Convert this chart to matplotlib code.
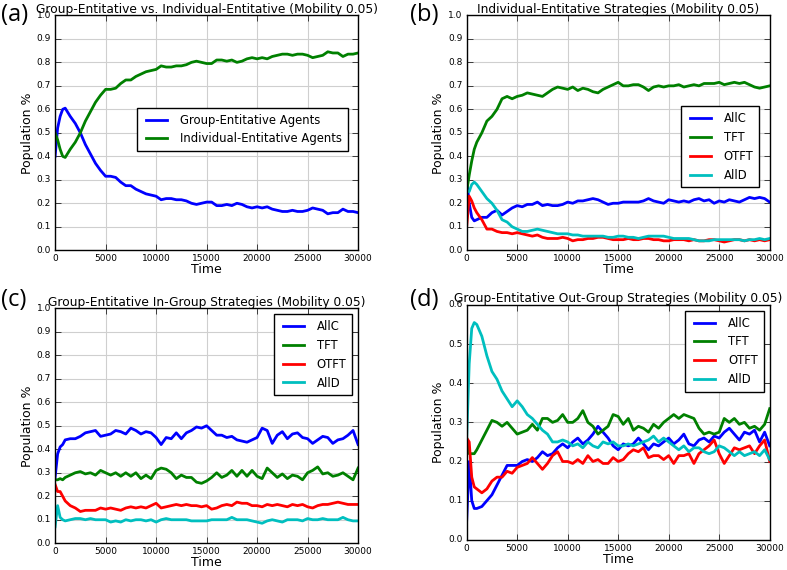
import numpy as np
import matplotlib
matplotlib.use("Agg")
from matplotlib import pyplot as plt

#time axis (samples every 250 at the start, then every 500)
time = [0, 250, 500, 750] + list(range(1000, 30001, 500))

#(a) Group-Entitative vs. Individual-Entitative
a_group = [0.40, 0.52, 0.57, 0.60, 0.605, 0.57, 0.54, 0.50, 0.45, 0.41, 0.37, 0.34, 0.315, 0.315, 0.31,
           0.29, 0.275, 0.275, 0.26, 0.25, 0.24, 0.235, 0.23, 0.215, 0.22, 0.22, 0.215, 0.215, 0.21, 0.20,
           0.195, 0.20, 0.205, 0.205, 0.19, 0.19, 0.195, 0.19, 0.20, 0.195, 0.185, 0.18, 0.185, 0.18, 0.185,
           0.175, 0.17, 0.165, 0.165, 0.17, 0.165, 0.165, 0.17, 0.18, 0.175, 0.17, 0.155, 0.16, 0.16, 0.175,
           0.165, 0.165, 0.16]
a_indiv = [0.50, 0.47, 0.43, 0.40, 0.395, 0.43, 0.46, 0.50, 0.55, 0.59, 0.63, 0.66, 0.685, 0.685, 0.69,
           0.71, 0.725, 0.725, 0.74, 0.75, 0.76, 0.765, 0.77, 0.785, 0.78, 0.78, 0.785, 0.785, 0.79, 0.80,
           0.805, 0.80, 0.795, 0.795, 0.81, 0.81, 0.805, 0.81, 0.80, 0.805, 0.815, 0.82, 0.815, 0.82, 0.815,
           0.825, 0.83, 0.835, 0.835, 0.83, 0.835, 0.835, 0.83, 0.82, 0.825, 0.83, 0.845, 0.84, 0.84, 0.825,
           0.835, 0.835, 0.84]

#(b) Individual-Entitative Strategies
b_allc = [0.30, 0.20, 0.14, 0.125, 0.13, 0.14, 0.14, 0.16, 0.17, 0.15, 0.165, 0.18, 0.19, 0.185, 0.195,
          0.195, 0.205, 0.19, 0.195, 0.19, 0.19, 0.195, 0.205, 0.20, 0.21, 0.21, 0.215, 0.22, 0.215, 0.205,
          0.195, 0.20, 0.20, 0.205, 0.205, 0.205, 0.205, 0.21, 0.22, 0.21, 0.205, 0.20, 0.215, 0.21, 0.205,
          0.21, 0.205, 0.215, 0.22, 0.21, 0.215, 0.20, 0.21, 0.205, 0.215, 0.21, 0.205, 0.215, 0.225, 0.22,
          0.225, 0.22, 0.205]
b_tft = [0.25, 0.32, 0.38, 0.43, 0.46, 0.50, 0.55, 0.57, 0.60, 0.645, 0.655, 0.645, 0.655, 0.66, 0.67,
         0.665, 0.66, 0.655, 0.67, 0.685, 0.695, 0.69, 0.685, 0.695, 0.68, 0.69, 0.685, 0.675, 0.67, 0.685,
         0.695, 0.705, 0.715, 0.70, 0.70, 0.705, 0.705, 0.695, 0.68, 0.695, 0.70, 0.695, 0.70, 0.70, 0.705,
         0.695, 0.70, 0.705, 0.70, 0.71, 0.71, 0.71, 0.715, 0.705, 0.71, 0.715, 0.71, 0.715, 0.705, 0.695,
         0.69, 0.695, 0.70]
b_otft = [0.10, 0.23, 0.21, 0.18, 0.16, 0.13, 0.09, 0.09, 0.08, 0.075, 0.075, 0.07, 0.075, 0.07, 0.065,
          0.06, 0.065, 0.055, 0.05, 0.05, 0.05, 0.055, 0.05, 0.04, 0.045, 0.045, 0.05, 0.05, 0.055, 0.055,
          0.05, 0.045, 0.045, 0.045, 0.05, 0.045, 0.045, 0.05, 0.05, 0.045, 0.045, 0.04, 0.04, 0.045, 0.045,
          0.045, 0.04, 0.045, 0.04, 0.04, 0.045, 0.045, 0.04, 0.035, 0.04, 0.045, 0.045, 0.04, 0.045, 0.04,
          0.045, 0.04, 0.045]
b_alld = [0.25, 0.25, 0.28, 0.29, 0.28, 0.25, 0.22, 0.20, 0.17, 0.13, 0.12, 0.10, 0.09, 0.08, 0.08,
          0.085, 0.09, 0.085, 0.08, 0.075, 0.07, 0.07, 0.07, 0.065, 0.065, 0.06, 0.06, 0.06, 0.06, 0.06,
          0.055, 0.055, 0.06, 0.06, 0.055, 0.055, 0.05, 0.055, 0.06, 0.06, 0.06, 0.06, 0.055, 0.05, 0.05,
          0.05, 0.05, 0.045, 0.04, 0.04, 0.04, 0.045, 0.045, 0.045, 0.045, 0.045, 0.045, 0.04, 0.045, 0.045,
          0.05, 0.045, 0.05]

#(c) Group-Entitative In-Group Strategies
c_allc = [0.28, 0.38, 0.41, 0.42, 0.44, 0.445, 0.445, 0.455, 0.47, 0.475, 0.48, 0.455, 0.46, 0.465, 0.48,
          0.475, 0.465, 0.49, 0.48, 0.465, 0.475, 0.47, 0.45, 0.42, 0.45, 0.445, 0.47, 0.445, 0.47, 0.48,
          0.495, 0.49, 0.50, 0.48, 0.46, 0.46, 0.45, 0.455, 0.44, 0.435, 0.43, 0.44, 0.45, 0.49, 0.48,
          0.425, 0.46, 0.475, 0.445, 0.465, 0.47, 0.45, 0.445, 0.425, 0.44, 0.455, 0.45, 0.425, 0.44, 0.445,
          0.46, 0.48, 0.42]
c_tft = [0.27, 0.27, 0.275, 0.27, 0.28, 0.29, 0.30, 0.305, 0.295, 0.30, 0.29, 0.31, 0.30, 0.29, 0.30,
         0.285, 0.30, 0.285, 0.30, 0.275, 0.29, 0.275, 0.31, 0.32, 0.315, 0.30, 0.275, 0.29, 0.28, 0.28,
         0.26, 0.255, 0.265, 0.28, 0.30, 0.28, 0.29, 0.31, 0.285, 0.31, 0.285, 0.31, 0.285, 0.275, 0.32,
         0.30, 0.28, 0.295, 0.275, 0.29, 0.285, 0.27, 0.30, 0.31, 0.325, 0.295, 0.30, 0.285, 0.29, 0.30,
         0.285, 0.27, 0.32]
c_otft = [0.25, 0.22, 0.22, 0.20, 0.18, 0.16, 0.15, 0.135, 0.14, 0.14, 0.14, 0.15, 0.145, 0.15, 0.145,
          0.14, 0.15, 0.155, 0.15, 0.155, 0.15, 0.16, 0.17, 0.15, 0.155, 0.16, 0.165, 0.16, 0.165, 0.16,
          0.16, 0.155, 0.16, 0.145, 0.15, 0.16, 0.165, 0.16, 0.175, 0.17, 0.17, 0.16, 0.16, 0.155, 0.165,
          0.16, 0.165, 0.16, 0.155, 0.165, 0.16, 0.165, 0.155, 0.15, 0.16, 0.165, 0.165, 0.17, 0.175, 0.17,
          0.165, 0.165, 0.165]
c_alld = [0.07, 0.16, 0.11, 0.10, 0.095, 0.10, 0.105, 0.105, 0.10, 0.105, 0.10, 0.10, 0.10, 0.09, 0.095,
          0.09, 0.10, 0.095, 0.10, 0.10, 0.095, 0.10, 0.09, 0.10, 0.105, 0.10, 0.10, 0.10, 0.10, 0.095,
          0.095, 0.095, 0.095, 0.10, 0.10, 0.10, 0.10, 0.11, 0.10, 0.10, 0.10, 0.095, 0.09, 0.085, 0.095,
          0.10, 0.095, 0.09, 0.10, 0.10, 0.10, 0.095, 0.105, 0.10, 0.10, 0.105, 0.10, 0.10, 0.10, 0.11,
          0.10, 0.095, 0.095]

#(d) Group-Entitative Out-Group Strategies
d_allc = [0.05, 0.20, 0.10, 0.08, 0.08, 0.085, 0.10, 0.115, 0.14, 0.165, 0.19, 0.19, 0.19, 0.20, 0.205,
          0.20, 0.21, 0.225, 0.215, 0.22, 0.235, 0.245, 0.235, 0.25, 0.26, 0.245, 0.255, 0.27, 0.29, 0.275,
          0.26, 0.24, 0.23, 0.245, 0.24, 0.245, 0.26, 0.245, 0.23, 0.245, 0.24, 0.25, 0.26, 0.245, 0.255,
          0.27, 0.245, 0.24, 0.255, 0.26, 0.25, 0.265, 0.26, 0.275, 0.285, 0.27, 0.255, 0.275, 0.27, 0.28,
          0.25, 0.275, 0.24]
d_tft = [0.26, 0.22, 0.22, 0.22, 0.23, 0.255, 0.28, 0.305, 0.30, 0.29, 0.30, 0.285, 0.27, 0.275, 0.28,
         0.295, 0.28, 0.31, 0.31, 0.30, 0.305, 0.32, 0.30, 0.30, 0.31, 0.33, 0.30, 0.29, 0.27, 0.28,
         0.29, 0.32, 0.315, 0.295, 0.31, 0.28, 0.29, 0.285, 0.275, 0.295, 0.285, 0.30, 0.31, 0.32, 0.31,
         0.32, 0.315, 0.31, 0.285, 0.27, 0.275, 0.27, 0.275, 0.31, 0.30, 0.31, 0.295, 0.30, 0.285, 0.29,
         0.28, 0.295, 0.335]
d_otft = [0.26, 0.25, 0.16, 0.135, 0.13, 0.12, 0.13, 0.15, 0.16, 0.16, 0.175, 0.17, 0.185, 0.19, 0.195,
          0.21, 0.195, 0.18, 0.195, 0.215, 0.225, 0.20, 0.20, 0.195, 0.205, 0.195, 0.215, 0.20, 0.205, 0.195,
          0.195, 0.21, 0.20, 0.205, 0.22, 0.23, 0.225, 0.235, 0.21, 0.215, 0.215, 0.205, 0.215, 0.195, 0.215,
          0.215, 0.22, 0.195, 0.22, 0.23, 0.24, 0.255, 0.22, 0.195, 0.215, 0.235, 0.23, 0.235, 0.24, 0.22,
          0.24, 0.255, 0.20]
d_alld = [0.26, 0.45, 0.54, 0.555, 0.55, 0.52, 0.47, 0.43, 0.41, 0.38, 0.36, 0.34, 0.355, 0.34, 0.32,
          0.31, 0.295, 0.28, 0.27, 0.25, 0.25, 0.255, 0.25, 0.24, 0.245, 0.235, 0.25, 0.24, 0.235, 0.25,
          0.245, 0.25, 0.24, 0.24, 0.245, 0.24, 0.245, 0.25, 0.255, 0.265, 0.25, 0.26, 0.25, 0.24, 0.23,
          0.24, 0.225, 0.235, 0.235, 0.225, 0.22, 0.225, 0.24, 0.235, 0.225, 0.215, 0.225, 0.215, 0.22, 0.225,
          0.215, 0.23, 0.205]

strategies = ['AllC', 'TFT', 'OTFT', 'AllD']
colors = ['b', 'g', 'r', 'c']

plt.style.use('classic')
plt.rcParams['font.family'] = 'DejaVu Sans'

fig = plt.figure(figsize=(7.87, 5.70), dpi=100, facecolor='white')

#axes boxes in figure fractions (left, bottom, width, height)
boxes = [(0.070, 0.561, 0.385, 0.412),
         (0.593, 0.561, 0.385, 0.412),
         (0.070, 0.047, 0.385, 0.412),
         (0.593, 0.053, 0.385, 0.412)]

titles = ['Group-Entitative vs. Individual-Entitative (Mobility 0.05)',
          'Individual-Entitative Strategies (Mobility 0.05)',
          'Group-Entitative In-Group Strategies (Mobility 0.05)',
          'Group-Entitative Out-Group Strategies (Mobility 0.05)']

series = [[a_group, a_indiv],
          [b_allc, b_tft, b_otft, b_alld],
          [c_allc, c_tft, c_otft, c_alld],
          [d_allc, d_tft, d_otft, d_alld]]

labels = [['Group-Entitative Agents', 'Individual-Entitative Agents'],
          strategies, strategies, strategies]

ymax = [1.0, 1.0, 1.0, 0.6]
panel = ['(a)', '(b)', '(c)', '(d)']
panel_pos = [(0.001, 0.995), (0.521, 0.995), (0.001, 0.495), (0.521, 0.495)]

for i in range(4):
    ax = fig.add_axes(boxes[i])
    for vals, col, lab in zip(series[i], colors, labels[i]):
        ax.plot(time, vals, color=col, lw=2, label=lab)
    ax.set_xlim(0, 30000)
    ax.set_ylim(0, ymax[i])
    ax.set_xticks(range(0, 30001, 5000))
    ax.set_yticks(np.arange(0, ymax[i] + 0.01, 0.1))
    ax.yaxis.set_major_formatter(matplotlib.ticker.FormatStrFormatter('%.1f'))
    ax.tick_params(labelsize=6.5, pad=3)
    ax.grid(True, color='#cfcfcf', linestyle='-', lw=0.8)
    ax.set_axisbelow(True)
    ax.set_title(titles[i], fontsize=8.8, pad=2)
    ax.set_xlabel('Time', fontsize=9, labelpad=0)
    ax.set_ylabel('Population %', fontsize=9, labelpad=2)

    if i == 0:
        ax.legend(loc='center right', bbox_to_anchor=(0.985, 0.515), fontsize=8.4,
                  handlelength=2.4, borderpad=0.5, labelspacing=0.45)
    elif i == 1:
        ax.legend(loc='center right', bbox_to_anchor=(0.985, 0.44), fontsize=8.4,
                  handlelength=2.4, borderpad=0.5, labelspacing=0.5)
    else:
        ax.legend(loc='upper right', fontsize=8.4, handlelength=2.4,
                  borderpad=0.5, labelspacing=0.5)

    fig.text(panel_pos[i][0], panel_pos[i][1], panel[i], fontsize=17,
             family='Open Sans', ha='left', va='top')

plt.savefig('out.png', dpi=100, facecolor='white')
